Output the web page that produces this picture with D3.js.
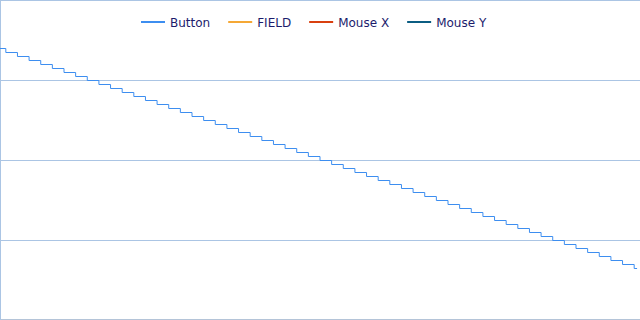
<!DOCTYPE html>
<html>
<head>
<meta charset="utf-8">
<script src="https://cdn.jsdelivr.net/npm/d3@7/dist/d3.min.js"></script>
<style>
  body { margin: 0; background: #fff; }
  svg { display: block; }
</style>
</head>
<body>
<div id="chart"></div>
<script>
  "use strict";

  // series names and colours for the legend
  var seriesNames = ["Button", "FIELD", "Mouse X", "Mouse Y"];
  var seriesColors = ["#3d8ef0", "#f5a835", "#d9400f", "#0b5d82"];

  // Button: step times (s) and level held from each time on
  var buttonTimes = [0, 0.5, 1.5, 2.5, 3.5, 4.5, 5.5, 6.5, 7.5, 8.5, 9.5,
    10.5, 11.5, 12.5, 13.5, 14.5, 15.5, 16.5, 17.5, 18.5, 19.5,
    20.5, 21.5, 22.5, 23.5, 24.5, 25.5, 26.5, 27.5, 28.5, 29.5,
    30.5, 31.5, 32.5, 33.5, 34.5, 35.5, 36.5, 37.5, 38.5, 39.5,
    40.5, 41.5, 42.5, 43.5, 44.5, 45.5, 46.5, 47.5, 48.5, 49.5,
    50.5, 51.5, 52.5, 53.5, 54.5, 54.75];
  var buttonValues = [3.40, 3.35, 3.30, 3.25, 3.20, 3.15, 3.10, 3.05, 3.00, 2.95, 2.90,
    2.85, 2.80, 2.75, 2.70, 2.65, 2.60, 2.55, 2.50, 2.45, 2.40,
    2.35, 2.30, 2.25, 2.20, 2.15, 2.10, 2.05, 2.00, 1.95, 1.90,
    1.85, 1.80, 1.75, 1.70, 1.65, 1.60, 1.55, 1.50, 1.45, 1.40,
    1.35, 1.30, 1.25, 1.20, 1.15, 1.10, 1.05, 1.00, 0.95, 0.90,
    0.85, 0.80, 0.75, 0.70, 0.65, 0.65];

  var yTicks = [0, 1, 2, 3, 4];

  var width = 640, height = 320;

  var svg = d3.select("#chart").append("svg")
      .attr("width", width)
      .attr("height", height);

  var x = d3.scaleLinear().domain([0, 55]).range([0, width]);
  var y = d3.scaleLinear().domain([0, 4]).range([height, 0]);

  // horizontal grid
  svg.append("g")
      .selectAll("line")
      .data(yTicks.slice(1))
      .join("line")
      .attr("x1", 0)
      .attr("x2", width)
      .attr("y1", function (d) { return Math.min(Math.round(y(d)) + 0.5, height - 0.5); })
      .attr("y2", function (d) { return Math.min(Math.round(y(d)) + 0.5, height - 0.5); })
      .attr("stroke", "#abc5e4")
      .attr("stroke-width", 1);

  // bottom axis line
  svg.append("line")
      .attr("x1", 0).attr("x2", width)
      .attr("y1", y(0) - 0.5).attr("y2", y(0) - 0.5)
      .attr("stroke", "#b4c4d8");

  // left axis line
  svg.append("line")
      .attr("x1", 0.5).attr("x2", 0.5)
      .attr("y1", 0).attr("y2", height)
      .attr("stroke", "#abc5e4");

  var buttonData = buttonTimes.map(function (t, i) { return [t, buttonValues[i]]; });

  var line = d3.line()
      .x(function (d) { return x(d[0]); })
      .y(function (d) { return Math.round(y(d[1])) + 0.5; })
      .curve(d3.curveStepAfter);

  svg.append("path")
      .datum(buttonData)
      .attr("fill", "none")
      .attr("stroke", seriesColors[0])
      .attr("stroke-width", 1)
      .attr("d", line);

  // legend
  var legend = svg.append("g").attr("class", "legend");
  var lx = 141;
  seriesNames.forEach(function (name, i) {
    legend.append("line")
        .attr("x1", lx).attr("x2", lx + 24)
        .attr("y1", 22).attr("y2", 22)
        .attr("stroke", seriesColors[i])
        .attr("stroke-width", 2);
    var txt = legend.append("text")
        .attr("x", lx + 29)
        .attr("y", 27)
        .attr("font-family", "DejaVu Sans, Verdana, sans-serif")
        .attr("font-size", 12)
        .attr("fill", "#1c1c6c")
        .text(name);
    lx += 29 + txt.node().getComputedTextLength() + 18;
  });
</script>
</body>
</html>
